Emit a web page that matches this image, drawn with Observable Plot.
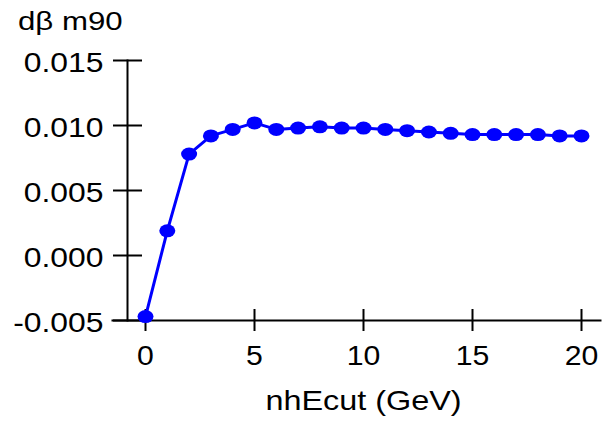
<!DOCTYPE html>
<html>
<head>
<meta charset="utf-8">
<script src="https://cdn.jsdelivr.net/npm/d3@7"></script>
<script src="https://cdn.jsdelivr.net/npm/@observablehq/plot@0.6"></script>
<style>
  html, body { margin: 0; padding: 0; background: #fff; }
  #title {
    font-family: "Liberation Sans", Arial, sans-serif;
    font-size: 26px;
    height: 40px;
    line-height: 42px;
    padding-left: 18px;
    color: #000;
    box-sizing: border-box;
  }
  #title span { display: inline-block; transform: scaleX(1.2); transform-origin: 0 50%; }
</style>
</head>
<body>
<div id="title"><span>dβ m90</span></div>
<div id="chart"></div>
<script>
// Cut on neutral-hadron energy (GeV)
const nhEcut = [0, 1, 2, 3, 4, 5, 6, 7, 8, 9, 10, 11, 12, 13, 14, 15, 16, 17, 18, 19, 20];
// dβ for m90 at each cut
const dBeta = [-0.0047, 0.0019, 0.0078, 0.0092, 0.0097, 0.0102, 0.0097, 0.0098, 0.0099, 0.0098,
               0.0098, 0.0097, 0.0096, 0.0095, 0.0094, 0.0093, 0.0093, 0.0093, 0.0093, 0.0092, 0.0092];
const xTicks = [0, 5, 10, 15, 20];
const yTicks = [-0.005, 0.000, 0.005, 0.010, 0.015];

const data = nhEcut.map((x, i) => ({x, y: dBeta[i]}));

const chart = Plot.plot({
  width: 604,
  height: 381,
  marginTop: 20,
  marginBottom: 101,
  marginLeft: 112,
  marginRight: 4,
  style: {fontFamily: "Liberation Sans, Arial, sans-serif", fontSize: "27px", color: "#000", background: "#fff"},
  x: {domain: [0, 20], insetLeft: 33, insetRight: 19},
  y: {domain: [-0.005, 0.015]},
  marks: [
    Plot.frame({anchor: "bottom", stroke: "#000", strokeWidth: 2}),
    Plot.frame({anchor: "left", dx: 15, stroke: "#000", strokeWidth: 2}),
    Plot.axisY(yTicks, {
      anchor: "left", tickSize: 29, tickPadding: 10, dx: 30,
      strokeWidth: 2, tickFormat: d => d.toFixed(3), label: null
    }),
    Plot.axisX(xTicks, {
      anchor: "bottom", tickSize: 22, tickPadding: 14, dy: -11,
      strokeWidth: 2, tickFormat: d => String(d),
      label: "nhEcut (GeV)", labelAnchor: "center", labelArrow: "none", labelOffset: 89
    }),
    Plot.line(data, {x: "x", y: "y", stroke: "#0000ff", strokeWidth: 3}),
    Plot.dot(data, {x: "x", y: "y", r: 7, fill: "#0000ff", stroke: "none"})
  ]
});

// widen the lettering a little, keeping each label's anchor point fixed;
// the axis title is centred under the 0–20 tick span
const widen = {"y-axis tick label": [1.18, 0, 3], "x-axis tick label": [1.12, 0, 0], "x-axis label": [1.2, 7, 0]};
chart.querySelectorAll("text").forEach(t => {
  const g = t.closest("g[aria-label]");
  const [s, dx, dy] = widen[g && g.getAttribute("aria-label")] || [1.12, 0, 0];
  const x = +(t.getAttribute("x") || 0);
  const tr = t.getAttribute("transform") || "";
  t.setAttribute("transform", `${tr} translate(${x + dx},${dy}) scale(${s},1) translate(${-x},0)`);
});

// markers are drawn slightly wider than tall
chart.querySelectorAll("g[aria-label='dot'] circle").forEach(c => {
  const e = document.createElementNS("http://www.w3.org/2000/svg", "ellipse");
  e.setAttribute("cx", c.getAttribute("cx"));
  e.setAttribute("cy", c.getAttribute("cy"));
  e.setAttribute("rx", 8);
  e.setAttribute("ry", 6.5);
  c.replaceWith(e);
});

document.getElementById("chart").appendChild(chart);
</script>
</body>
</html>
